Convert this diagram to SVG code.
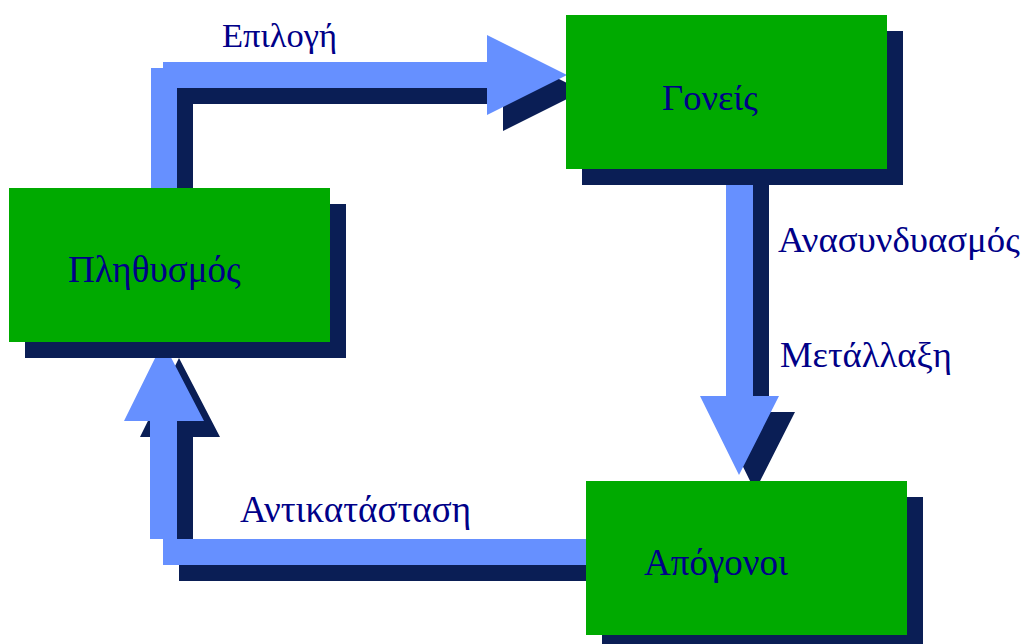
<svg xmlns="http://www.w3.org/2000/svg" width="1028" height="644" viewBox="0 0 1028 644">
<style>
.box{fill:#00aa00}
.sh{fill:#0a1e55}
.arr{fill:#6690ff}
.t{font-family:"Liberation Serif","Times New Roman",serif;fill:#000088}
</style>
<rect width="1028" height="644" fill="#ffffff"/>
<g id="connectors">
  <g class="sh">
    <path d="M167 84 H179 V78 H503 V51 L583 91 L503 131 V104 H193 V204 H167 Z"/>
    <path d="M742 185 H769 V412 H795 L755 491 L716 412 H742 Z"/>
    <path d="M179 596 V581 H602 V555 H193 V437 H220 L179 358 L140 437 H167 V555 H179 Z"/>
  </g>
  <g class="arr">
    <path d="M151 188 V68 H163 V62 H487 V35 L567 75 L487 115 V88 H177 V188 Z"/>
    <path d="M726 169 H753 V396 H779 L739 475 L700 396 H726 Z"/>
    <path d="M163 565 V539 H150 V421 H124 L163 342 L204 421 H177 V539 H586 V565 Z"/>
  </g>
  <text class="t" x="222" y="47" font-size="34.5">Επιλογή</text>
  <text class="t" x="778" y="252" font-size="36.8">Ανασυνδυασμός</text>
  <text class="t" x="780" y="367" font-size="36.6">Μετάλλαξη</text>
  <text class="t" x="240" y="522" font-size="37">Αντικατάσταση</text>
</g>
<g id="node-plithysmos">
  <rect class="sh" x="25" y="204" width="321" height="154"/>
  <rect class="box" x="9" y="188" width="321" height="154"/>
  <text class="t" x="68" y="282" font-size="37">Πληθυσμός</text>
</g>
<g id="node-goneis">
  <rect class="sh" x="582" y="31" width="321" height="154"/>
  <rect class="box" x="566" y="15" width="321" height="154"/>
  <text class="t" x="662" y="110" font-size="36.6">Γονείς</text>
</g>
<g id="node-apogonoi">
  <rect class="sh" x="602" y="497" width="321" height="154"/>
  <rect class="box" x="586" y="481" width="321" height="154"/>
  <text class="t" x="644" y="575" font-size="37">Απόγονοι</text>
</g>
</svg>
